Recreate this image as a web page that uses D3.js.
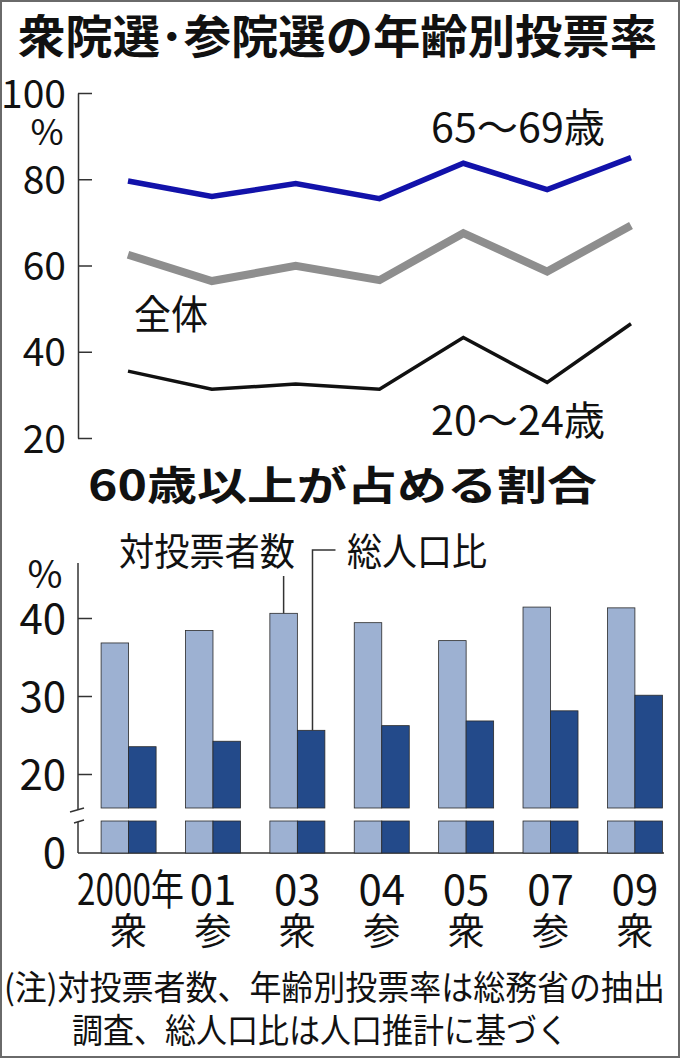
<!DOCTYPE html>
<html>
<head>
<meta charset="utf-8">
<script src="https://cdn.jsdelivr.net/npm/d3@7"></script>
<style>
body { margin: 0; background: #fff; }
svg { display: block; }
text { font-family: "Liberation Sans Narrow", "Arial Narrow", "Noto Sans CJK JP", sans-serif; fill: #111; }
.jp { font-family: "Noto Sans CJK JP", sans-serif; }
</style>
</head>
<body>
<svg></svg>
<script>

// DATA

var elections = ['2000年', '01', '03', '04', '05', '07', '09']
var houses = ['衆', '参', '衆', '参', '衆', '参', '衆']

// 年齢別投票率 (%)
var rate65to69 = [79.6, 76.0, 79.0, 75.5, 83.7, 77.6, 85.0]
var rateAll = [62.5, 56.4, 59.9, 56.6, 67.5, 58.6, 69.3]
var rate20to24 = [35.5, 31.3, 32.5, 31.3, 43.3, 32.9, 46.5]

// 60歳以上が占める割合 (%)
var shareVoters = [36.8, 38.4, 40.6, 39.4, 37.1, 41.4, 41.3]
var sharePopulation = [23.5, 24.2, 25.6, 26.2, 26.8, 28.1, 30.1]

var rateTicks = [20, 40, 60, 80, 100]
var shareTicks = [20, 30, 40]

// VIS

var width = 680
var height = 1058

var svg = d3.select('svg')
	.attr('width', width)
	.attr('height', height)

svg.append('rect')
	.attr('x', 1).attr('y', 1)
	.attr('width', width - 2).attr('height', height - 2)
	.attr('fill', '#fff')
	.attr('stroke', '#6a6a6a')
	.attr('stroke-width', 2)

var axisX = 78

// TITLES

svg.append('text')
	.attr('class', 'jp')
	.attr('x', 18).attr('y', 53)
	.attr('font-size', 46)
	.attr('font-weight', 700)
	.attr('textLength', 639)
	.attr('lengthAdjust', 'spacingAndGlyphs')
	.text('衆院選･参院選の年齢別投票率')

svg.append('text')
	.attr('class', 'jp')
	.attr('x', 88).attr('y', 500)
	.attr('font-size', 40)
	.attr('font-weight', 700)
	.attr('textLength', 509)
	.attr('lengthAdjust', 'spacingAndGlyphs')
	.text('60歳以上が占める割合')

// TOP CHART : lines

var xLine = d3.scalePoint().domain(elections).range([128, 631])
var yRate = d3.scaleLinear().domain([20, 100]).range([438, 93])

var rateAxis = svg.append('g')
	.attr('transform', 'translate(' + axisX + ',0)')
	.call(d3.axisLeft(yRate).tickValues(rateTicks).tickSize(-14).tickSizeOuter(0).tickPadding(12))

rateAxis.attr('font-family', null).attr('font-size', 39)
rateAxis.selectAll('path, line').attr('stroke', '#333').attr('stroke-width', 1.5)
rateAxis.selectAll('text').attr('fill', '#111').attr('dy', '0.36em')

svg.append('text')
	.attr('x', 47).attr('y', 145)
	.attr('text-anchor', 'middle')
	.attr('font-size', 36)
	.text('%')

var series = [
	{ name: '65～69歳', values: rate65to69, color: '#1212aa', w: 5.5 },
	{ name: '全体', values: rateAll, color: '#8e8e8e', w: 8 },
	{ name: '20～24歳', values: rate20to24, color: '#111', w: 3.5 }
]

var line = d3.line()
	.x(function(d, i) { return xLine(elections[i]) })
	.y(function(d) { return yRate(d) })

svg.append('g')
	.selectAll('path')
	.data(series)
	.enter()
	.append('path')
	.attr('d', function(d) { return line(d.values) })
	.attr('fill', 'none')
	.attr('stroke', function(d) { return d.color })
	.attr('stroke-width', function(d) { return d.w })

var lineLabels = [
	{ text: '65～69歳', x: 431, y: 142, len: 174 },
	{ text: '全体', x: 134, y: 329, len: 74 },
	{ text: '20～24歳', x: 431, y: 435, len: 174 }
]

svg.append('g')
	.selectAll('text')
	.data(lineLabels)
	.enter()
	.append('text')
	.attr('x', function(d) { return d.x })
	.attr('y', function(d) { return d.y })
	.attr('font-size', 40)
	.attr('textLength', function(d) { return d.len })
	.attr('lengthAdjust', 'spacingAndGlyphs')
	.text(function(d) { return d.text })

// BOTTOM CHART : bars

var xBar = d3.scalePoint().domain(elections).range([128.6, 634.9])
var yShare = d3.scaleLinear().domain([20, 40]).range([774, 618])
var barW = 27.5

var breakTop = 808
var breakBottom = 821
var baseY = 853

var shareAxis = svg.append('g')
	.attr('transform', 'translate(' + axisX + ',0)')
	.call(d3.axisLeft(yShare).tickValues(shareTicks).tickSize(-14).tickSizeOuter(0).tickPadding(12))

shareAxis.select('.domain').remove()
shareAxis.attr('font-family', null).attr('font-size', 42)
shareAxis.selectAll('line').attr('stroke', '#333').attr('stroke-width', 1.5)
shareAxis.selectAll('text').attr('fill', '#111').attr('dy', '0.36em')

var shareFrame = svg.append('g')
	.attr('stroke', '#333')
	.attr('stroke-width', 1.5)

shareFrame.append('line')
	.attr('x1', axisX).attr('x2', axisX)
	.attr('y1', 563).attr('y2', breakTop + 2)
shareFrame.append('line')
	.attr('x1', axisX).attr('x2', axisX)
	.attr('y1', breakBottom + 1).attr('y2', baseY)
shareFrame.append('line')
	.attr('x1', axisX).attr('x2', 664)
	.attr('y1', baseY).attr('y2', baseY)

// break marks
shareFrame.append('line')
	.attr('x1', 70).attr('y1', breakTop + 4)
	.attr('x2', 84).attr('y2', breakTop)
shareFrame.append('line')
	.attr('x1', 74).attr('y1', breakBottom + 2)
	.attr('x2', 84).attr('y2', breakBottom - 1)

svg.append('text')
	.attr('x', 66).attr('y', baseY)
	.attr('dy', '0.36em')
	.attr('text-anchor', 'end')
	.attr('font-size', 42)
	.text('0')

svg.append('text')
	.attr('x', 45).attr('y', 588)
	.attr('text-anchor', 'middle')
	.attr('font-size', 38)
	.text('%')

var bars = []
elections.forEach(function(c, i) {
	bars.push({ cat: c, value: shareVoters[i], dx: -barW, fill: '#9db1d2' })
	bars.push({ cat: c, value: sharePopulation[i], dx: 0, fill: '#234a8a' })
})

var barG = svg.append('g')
	.attr('stroke', '#2a2a2a')
	.attr('stroke-width', 0.8)

barG.selectAll('.bar-top')
	.data(bars)
	.enter()
	.append('rect')
	.attr('class', 'bar-top')
	.attr('x', function(d) { return xBar(d.cat) + d.dx })
	.attr('y', function(d) { return yShare(d.value) })
	.attr('width', barW)
	.attr('height', function(d) { return breakTop - yShare(d.value) })
	.attr('fill', function(d) { return d.fill })

barG.selectAll('.bar-stub')
	.data(bars)
	.enter()
	.append('rect')
	.attr('class', 'bar-stub')
	.attr('x', function(d) { return xBar(d.cat) + d.dx })
	.attr('y', breakBottom)
	.attr('width', barW)
	.attr('height', baseY - breakBottom)
	.attr('fill', function(d) { return d.fill })

// legend leaders
var leaders = svg.append('g')
	.attr('stroke', '#333')
	.attr('stroke-width', 1.5)
	.attr('fill', 'none')

var xV = xBar(elections[2]) - barW / 2
leaders.append('line')
	.attr('x1', xV).attr('x2', xV)
	.attr('y1', 576).attr('y2', yShare(shareVoters[2]))

var xP = xBar(elections[2]) + barW * 0.55
leaders.append('path')
	.attr('d', 'M' + (xP + 23) + ',550H' + xP + 'V' + yShare(sharePopulation[2]))

svg.append('text')
	.attr('class', 'jp')
	.attr('x', 119).attr('y', 565)
	.attr('font-size', 38)
	.attr('textLength', 176)
	.attr('lengthAdjust', 'spacingAndGlyphs')
	.text('対投票者数')

svg.append('text')
	.attr('class', 'jp')
	.attr('x', 347).attr('y', 565)
	.attr('font-size', 38)
	.attr('textLength', 140)
	.attr('lengthAdjust', 'spacingAndGlyphs')
	.text('総人口比')

// X LABELS

svg.append('g')
	.selectAll('text')
	.data(elections)
	.enter()
	.append('text')
	.attr('x', function(d) { return xBar(d) + (d == '2000年' ? 2 : 0) })
	.attr('y', 905)
	.attr('text-anchor', 'middle')
	.attr('font-size', 42)
	.attr('textLength', function(d) { return d == '2000年' ? 107 : null })
	.attr('lengthAdjust', 'spacingAndGlyphs')
	.text(function(d) { return d })

svg.append('g')
	.selectAll('text')
	.data(houses)
	.enter()
	.append('text')
	.attr('class', 'jp')
	.attr('x', function(d, i) { return xBar(elections[i]) })
	.attr('y', 945)
	.attr('text-anchor', 'middle')
	.attr('font-size', 37)
	.text(function(d) { return d })

// NOTE

svg.append('text')
	.attr('x', 4).attr('y', 1000)
	.attr('font-size', 34)
	.attr('textLength', 661)
	.attr('lengthAdjust', 'spacingAndGlyphs')
	.text('(注)対投票者数、年齢別投票率は総務省の抽出')

svg.append('text')
	.attr('x', 72).attr('y', 1043)
	.attr('font-size', 34)
	.attr('textLength', 496)
	.attr('lengthAdjust', 'spacingAndGlyphs')
	.text('調査、総人口比は人口推計に基づく')

</script>
</body>
</html>
